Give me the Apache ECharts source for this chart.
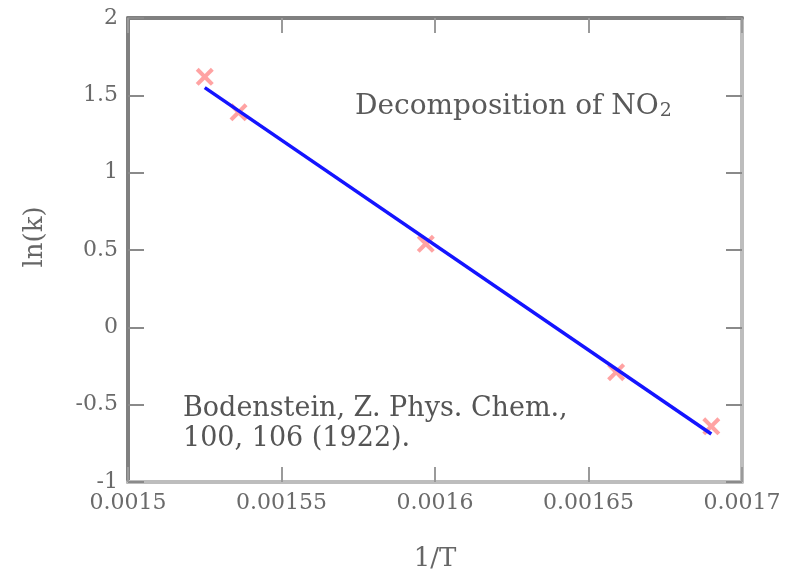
<!DOCTYPE html>
<html>
<head>
<meta charset="utf-8">
<script src="https://cdn.jsdelivr.net/npm/echarts@6/dist/echarts.min.js"></script>
<style>
  html, body { margin: 0; padding: 0; background: #fff; }
  #chart { width: 786px; height: 577px; }
</style>
</head>
<body>
<div id="chart"></div>
<script>
// Measured data: 1/T (K^-1) vs ln(k)
var invT = [0.001525, 0.001536, 0.001597, 0.001659, 0.001690];
var lnK  = [1.62, 1.39, 0.54, -0.29, -0.64];
// Fitted straight line (end points)
var fitX = [0.001525, 0.001690];
var fitY = [1.55, -0.69];
// Axis settings
var xMin = 0.0015, xMax = 0.0017, xStep = 0.00005;
var yMin = -1, yMax = 2, yStep = 0.5;
var title = 'Decomposition of NO';
var titleSub = '2';
var refLines = ['Bodenstein, Z. Phys. Chem.,', '100, 106 (1922).'];

var serif = 'DejaVu Serif';
var pts = invT.map(function (x, i) { return [x, lnK[i]]; });
var fit = fitX.map(function (x, i) { return [x, fitY[i]]; });
var cross = 'path://M0,1.6L1.6,0L5,3.4L8.4,0L10,1.6L6.6,5L10,8.4L8.4,10L5,6.6L1.6,10L0,8.4L3.4,5Z';

function xAx(pos, show, lineColor) {
  return {
    type: 'value', position: pos, min: xMin, max: xMax, interval: xStep,
    axisLine: { show: true, onZero: false, lineStyle: { color: lineColor, width: 4 } },
    axisTick: { show: true, inside: true, length: 15, lineStyle: { color: '#9a9a9a', width: 2 } },
    axisLabel: { show: show, fontFamily: serif, fontSize: 22, color: '#6a6a6a', margin: 10 },
    splitLine: { show: false },
    name: show ? '1/T' : '', nameLocation: 'middle', nameGap: 64,
    nameTextStyle: { fontFamily: serif, fontSize: 26, color: '#666' }
  };
}
function yAx(pos, show, lineColor) {
  return {
    type: 'value', position: pos, min: yMin, max: yMax, interval: yStep,
    axisLine: { show: true, onZero: false, lineStyle: { color: lineColor, width: 4 } },
    axisTick: { show: true, inside: true, length: 16, lineStyle: { color: '#8a8a8a', width: 2 } },
    axisLabel: { show: show, fontFamily: serif, fontSize: 22, color: '#6a6a6a', margin: 10 },
    splitLine: { show: false }
  };
}

var chart = echarts.init(document.getElementById('chart'), null, { renderer: 'canvas' });
chart.setOption({
  animation: false,
  backgroundColor: '#fff',
  grid: { left: 128, right: 44, top: 18, bottom: 90 },
  xAxis: [xAx('bottom', true, '#bdbdbd'), xAx('top', false, '#808080')],
  yAxis: [yAx('left', true, '#808080'), yAx('right', false, '#bdbdbd')],
  series: [
    {
      type: 'scatter', data: pts, symbol: cross, symbolSize: 18,
      itemStyle: { color: '#ff8c8c' }, z: 2
    },
    {
      type: 'line', data: fit, showSymbol: false, symbol: 'none',
      lineStyle: { color: '#1414ff', width: 3.5 }, z: 3
    }
  ],
  graphic: [
    {
      type: 'text', left: 355, top: 93,
      style: {
        text: '{a|' + title + '}{b|' + titleSub + '}',
        rich: {
          a: { fontFamily: serif, fontSize: 28, fill: '#5a5a5a', lineHeight: 34, verticalAlign: 'bottom' },
          b: { fontFamily: serif, fontSize: 19, fill: '#5a5a5a', lineHeight: 19, verticalAlign: 'bottom', padding: [0, 0, 0, 1] }
        }
      }
    },
    {
      type: 'text', left: 183, top: 394,
      style: {
        text: refLines.join('\n'),
        font: '27px "DejaVu Serif"', fill: '#555', lineHeight: 30
      }
    },
    {
      type: 'text', x: 35, y: 237, rotation: Math.PI / 2,
      style: {
        text: 'ln(k)', font: '26px "DejaVu Serif"', fill: '#666',
        textAlign: 'center', textVerticalAlign: 'middle'
      }
    }
  ]
});
</script>
</body>
</html>
